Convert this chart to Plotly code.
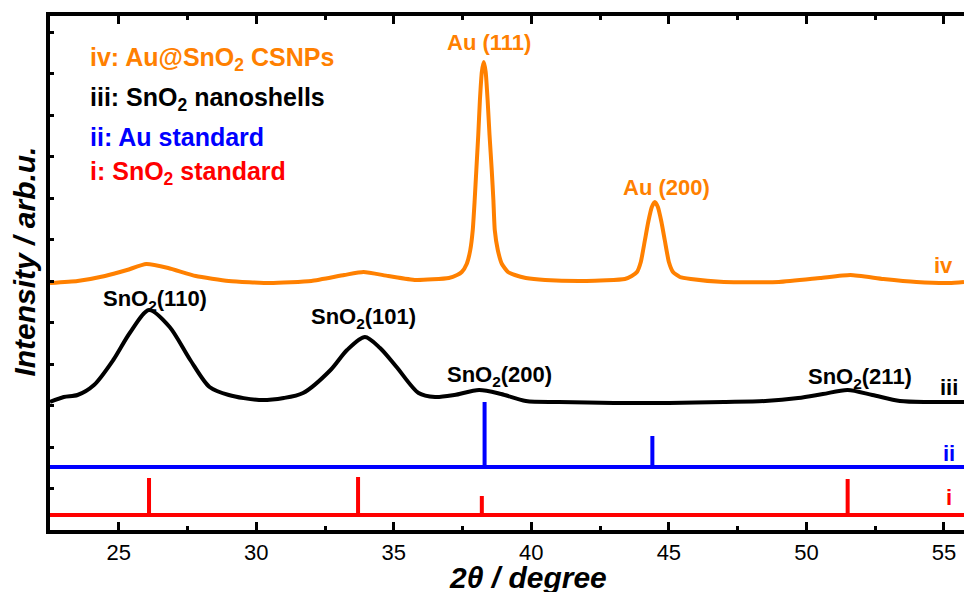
import plotly.graph_objects as go

# ---- diffraction data (2theta in degrees, intensity in arbitrary units, already stacked) ----
# iv: Au@SnO2 core-shell nanoparticles
au_sno2_2theta = [22.5, 23.5, 24.5, 25.3, 26.0, 26.8, 27.8, 29.0, 30.5, 32.0, 33.2, 33.9, 34.8,
                  35.8, 37.0, 37.3, 37.47, 37.65, 37.78, 37.87, 37.94, 38.0, 38.07, 38.13, 38.2,
                  38.27, 38.34, 38.41, 38.48, 38.56, 38.62, 38.67, 38.78, 38.93, 39.15, 39.4,
                  39.8, 40.5, 42.0, 43.4, 43.65, 43.84, 43.98, 44.13, 44.25, 44.38, 44.49,
                  44.6, 44.73, 44.85, 45.0, 45.15, 45.4, 45.8, 47.0, 49.0, 50.5, 51.6, 52.8,
                  54.0, 55.2, 55.73]
au_sno2_int = [247, 249, 254, 260, 266, 262, 254, 249, 247, 249, 255, 258, 254,
               250, 252, 255, 258, 266, 280, 300, 330, 360, 395, 430, 458,
               468, 458, 430, 395, 360, 330, 300, 280, 266, 258, 255,
               252, 250, 249, 251, 254, 258, 268, 290, 308, 323, 328,
               323, 308, 290, 268, 258, 253, 251, 248, 248, 252, 255, 251,
               248, 247, 248]

# iii: SnO2 nanoshells
sno2_shell_2theta = [22.5, 23.0, 23.5, 24.1, 24.8, 25.4, 26.1, 26.85, 27.6, 28.3, 29.0, 30.1,
                     31.0, 31.7, 32.7, 33.3, 33.95, 34.5, 35.1, 35.9, 36.5, 37.2, 38.1, 38.9,
                     39.8, 41.0, 43.0, 45.0, 47.0, 48.5, 49.7, 50.6, 51.5, 52.4, 53.4, 54.5, 55.73]
sno2_shell_int = [128, 133, 135, 145, 170, 197, 220, 203, 170, 143, 135, 130,
                  132, 137, 160, 180, 193, 182, 163, 137, 133, 135, 140, 136,
                  129, 128, 127, 127, 128, 129, 132, 136, 140, 135, 129, 128, 128]

# ii: Au reference pattern (stick positions and line tops)
au_std_pos = [38.3, 44.4]
au_std_top = [128, 94]
au_std_base = 63

# i: SnO2 reference pattern
sno2_std_pos = [26.1, 33.7, 38.2, 51.5]
sno2_std_top = [52, 53, 34, 51]
sno2_std_base = 15

x_min, x_max = 22.5, 55.73
y_min, y_max = 0, 514
y_tick_step = 41.5

ORANGE = "#FF8000"
BLUE = "#0000FF"
RED = "#FF0000"
BLACK = "#000000"
FONT = "Liberation Sans, Arial, sans-serif"


def stick_pattern(pos, top, base):
    xs, ys = [x_min], [base]
    for p, t in zip(pos, top):
        xs += [p, p, p]
        ys += [base, t, base]
    xs.append(x_max)
    ys.append(base)
    return xs, ys


fig = go.Figure()

sx, sy = stick_pattern(sno2_std_pos, sno2_std_top, sno2_std_base)
fig.add_trace(go.Scatter(x=sx, y=sy, mode="lines", line=dict(color=RED, width=4),
                         name="i: SnO2 standard"))
ax, ay = stick_pattern(au_std_pos, au_std_top, au_std_base)
fig.add_trace(go.Scatter(x=ax, y=ay, mode="lines", line=dict(color=BLUE, width=4),
                         name="ii: Au standard"))
fig.add_trace(go.Scatter(x=sno2_shell_2theta, y=sno2_shell_int, mode="lines",
                         line=dict(color=BLACK, width=4, shape="spline", smoothing=0.8),
                         name="iii: SnO2 nanoshells"))
fig.add_trace(go.Scatter(x=au_sno2_2theta, y=au_sno2_int, mode="lines",
                         line=dict(color=ORANGE, width=4, shape="spline", smoothing=0.5),
                         name="iv: Au@SnO2 CSNPs"))

annotations = []


def label(text, x, y, color, size=22, xanchor="center", yanchor="middle"):
    annotations.append(dict(text=text, x=x, y=y, xref="x", yref="y", showarrow=False,
                            xanchor=xanchor, yanchor=yanchor,
                            font=dict(family=FONT, size=size, color=color)))


# sample key
label("<b>iv: Au@SnO<sub>2</sub> CSNPs</b>", 23.87, 471, ORANGE, 25, xanchor="left")
label("<b>iii: SnO<sub>2</sub> nanoshells</b>", 23.87, 431, BLACK, 25, xanchor="left")
label("<b>ii: Au standard</b>", 23.87, 393, BLUE, 25, xanchor="left")
label("<b>i: SnO<sub>2</sub> standard</b>", 23.87, 357, RED, 25, xanchor="left")

# reflection labels
label("<b>Au (111)</b>", 38.45, 488, ORANGE, 22)
label("<b>Au (200)</b>", 44.9, 343, ORANGE, 22)
label("<b>SnO<sub>2</sub>(110)</b>", 26.3, 230, BLACK, 22)
label("<b>SnO<sub>2</sub>(101)</b>", 33.9, 212, BLACK, 22)
label("<b>SnO<sub>2</sub>(200)</b>", 38.85, 154, BLACK, 22)
label("<b>SnO<sub>2</sub>(211)</b>", 51.95, 152, BLACK, 22)

# curve tags
label("<b>iv</b>", 55.0, 265, ORANGE, 22)
label("<b>iii</b>", 55.2, 143, BLACK, 22)
label("<b>ii</b>", 55.2, 77, BLUE, 22)
label("<b>i</b>", 55.2, 33, RED, 22)

# axis titles
annotations.append(dict(text="<b><i>2θ / degree</i></b>", x=39.87, y=-0.092, xref="x",
                        yref="paper", showarrow=False, xanchor="center", yanchor="middle",
                        font=dict(family=FONT, size=30, color=BLACK)))
annotations.append(dict(text="<b><i>Intensity / arb.u.</i></b>", x=-0.028, y=0.523,
                        xref="paper", yref="paper", showarrow=False, textangle=-90,
                        xanchor="center", yanchor="middle",
                        font=dict(family=FONT, size=30, color=BLACK)))

fig.update_layout(
    width=964, height=592,
    margin=dict(l=50, r=0, t=16, b=62),
    paper_bgcolor="white", plot_bgcolor="white",
    showlegend=False,
    annotations=annotations,
    font=dict(family=FONT, color=BLACK),
    xaxis=dict(range=[x_min, x_max], showgrid=False, zeroline=False,
               showline=True, linecolor=BLACK, linewidth=4, mirror="ticks",
               ticks="inside", ticklen=8, tickwidth=3, tickcolor=BLACK,
               tick0=25, dtick=5,
               minor=dict(ticks="inside", ticklen=4, tickwidth=3, tickcolor=BLACK,
                          tick0=27.5, dtick=2.5),
               tickfont=dict(family=FONT, size=22, color=BLACK)),
    yaxis=dict(range=[y_min, y_max], showgrid=False, zeroline=False,
               showline=True, linecolor=BLACK, linewidth=4, mirror=False,
               ticks="inside", ticklen=4, tickwidth=3, tickcolor=BLACK,
               tick0=0, dtick=y_tick_step, showticklabels=False),
)

fig.write_html("out.html")
